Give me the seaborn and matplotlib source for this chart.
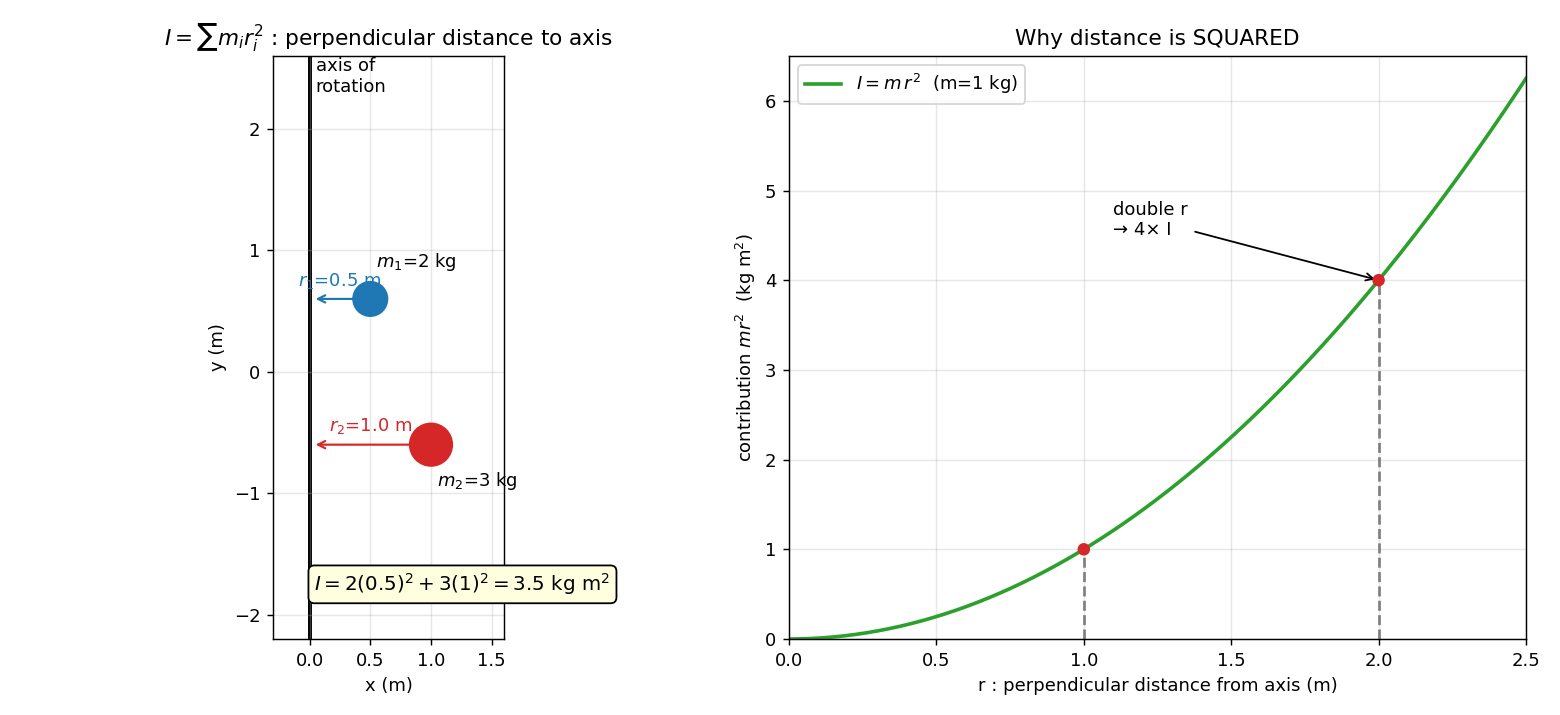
"""
Moment of inertia sketch: point masses around an axis, and why r is squared.
"""

from matplotlib import pyplot as plt
import pandas as pd
import numpy as np
import seaborn as sns

# --- point masses (left panel)
mass_names = ['$m_1$', '$m_2$']
radius_names = ['$r_1$', '$r_2$']
masses = [2, 3]            # kg
radii = [0.5, 1.0]         # m, perpendicular distance to axis
heights = [0.6, -0.6]      # y position of each mass
mass_colors = ['tab:blue', 'tab:red']

# --- contribution curve (right panel)
m_curve = 1.0
r_max = 2.5
r_marked = [1.0, 2.0]

df_masses = pd.DataFrame({'x': radii, 'y': heights, 'm': masses, 'name': mass_names})
r = np.linspace(0, r_max, 200)
df_curve = pd.DataFrame({'r': r, 'I': m_curve * r ** 2})
df_marked = pd.DataFrame({'r': r_marked, 'I': [m_curve * v ** 2 for v in r_marked]})

fig = plt.figure(figsize=(12, 5.5), dpi=130)
ax1 = fig.add_axes([273 / 1560, 76 / 715, 231 / 1560, 583 / 715])
ax2 = fig.add_axes([789 / 1560, 76 / 715, 737 / 1560, 583 / 715])

# ---- left: masses around the axis
ax1.axvline(0, color='black', lw=2.2, zorder=1)
ax1.text(0.05, 2.59, 'axis of\nrotation', ha='left', va='top', fontsize=10)
sns.scatterplot(data=df_masses, x='x', y='y', hue='name', palette=mass_colors,
                size='m', sizes=(400, 600), legend=False, ax=ax1,
                edgecolor='none', zorder=3)

for i, row in df_masses.iterrows():
    c = mass_colors[i]
    ax1.annotate('', xy=(0.02, row.y), xytext=(row.x, row.y),
                 arrowprops=dict(arrowstyle='->', color=c, lw=1.2), zorder=2)
    ax1.text(row.x / 2, row.y + 0.15, f'{radius_names[i]}={row.x:.1f} m',
             color=c, ha='center', va='center', fontsize=10)
    dy = 0.3 if row.y > 0 else -0.3
    ax1.text(row.x + 0.05, row.y + dy, f'{row["name"]}={int(row.m)} kg',
             ha='left', va='center', fontsize=10)

total = sum(m * d ** 2 for m, d in zip(masses, radii))
ax1.text(0.04, -1.75, r'$I = 2(0.5)^2 + 3(1)^2 = %.1f$ kg m$^2$' % total,
         ha='left', va='center', fontsize=11, clip_on=False,
         bbox=dict(boxstyle='round', facecolor='lightyellow', edgecolor='black'))

ax1.set_xlim(-0.3, 1.6)
ax1.set_ylim(-2.2, 2.6)
ax1.set_aspect('equal')
ax1.set_xticks([0.0, 0.5, 1.0, 1.5])
ax1.set_yticks([-2, -1, 0, 1, 2])
ax1.grid(alpha=0.3)
ax1.set_xlabel('x (m)')
ax1.set_ylabel('y (m)')
ax1.set_title(r'$I = \sum m_i r_i^2$ : perpendicular distance to axis')

# ---- right: contribution grows as r^2
sns.lineplot(data=df_curve, x='r', y='I', color='tab:green', lw=2,
             label=r'$I = m\,r^2$  (m=1 kg)', ax=ax2)
for rv, iv in zip(df_marked['r'], df_marked['I']):
    ax2.plot([rv, rv], [0, iv], color='gray', ls='--', lw=1.5)
sns.scatterplot(data=df_marked, x='r', y='I', color='tab:red', s=48,
                edgecolor='none', zorder=4, ax=ax2)
ax2.annotate('double r\n→ 4× I', xy=(2.0, 4.0), xytext=(1.1, 4.5),
             arrowprops=dict(arrowstyle='->', color='black', lw=1), fontsize=10)

ax2.set_xlim(0, r_max)
ax2.set_ylim(0, 6.5)
ax2.grid(alpha=0.3)
ax2.legend(loc='upper left')
ax2.set_xlabel('r : perpendicular distance from axis (m)')
ax2.set_ylabel(r'contribution $mr^2$  (kg m$^2$)')
ax2.set_title('Why distance is SQUARED')

fig.savefig('out.png', dpi=130)
